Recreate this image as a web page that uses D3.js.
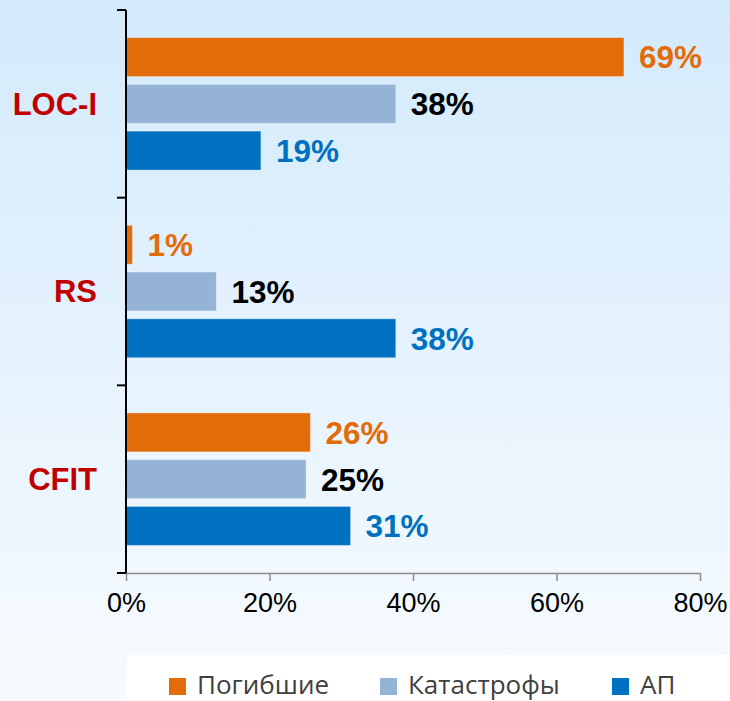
<!DOCTYPE html>
<html>
<head>
<meta charset="utf-8">
<script src="https://cdn.jsdelivr.net/npm/d3@7"></script>
<style>
  html, body { margin: 0; padding: 0; background: #fff; }
  svg { display: block; }
</style>
</head>
<body>
<div id="chart"></div>
<script>
// data
const categories = ["LOC-I", "RS", "CFIT"];
const seriesNames = ["Погибшие", "Катастрофы", "АП"];
const fatalities = [0.694, 0.009, 0.257];
const accidents = [0.376, 0.126, 0.251];
const incidents = [0.188, 0.376, 0.313];
const xTicks = [0, 0.2, 0.4, 0.6, 0.8];

const seriesValues = [fatalities, accidents, incidents];
const barColors = ["#e36c0a", "#95b3d7", "#0070c0"];
const labelColors = ["#e36c0a", "#000000", "#0070c0"];

const width = 730, height = 701;
const fmt = d3.format(".0%");

const svg = d3.select("#chart").append("svg")
    .attr("width", width)
    .attr("height", height);

// background gradient
const defs = svg.append("defs");
const grad = defs.append("linearGradient")
    .attr("id", "bg").attr("x1", 0).attr("y1", 0).attr("x2", 0).attr("y2", 1);
grad.append("stop").attr("offset", "0%").attr("stop-color", "#d3eafb");
grad.append("stop").attr("offset", "100%").attr("stop-color", "#f7fbff");
svg.append("rect").attr("width", width).attr("height", height).attr("fill", "url(#bg)");

const x = d3.scaleLinear().domain([0, 0.8]).range([126, 700]);
const y0 = d3.scaleBand().domain(categories).range([10, 573]).padding(0);
const y1 = d3.scaleBand().domain(d3.range(seriesNames.length))
    .range([0, y0.bandwidth()])
    .paddingInner(0.167)
    .paddingOuter(0.59);

// bars
const rows = categories.map((c, i) => ({
    cat: c,
    vals: seriesValues.map((s, k) => ({ k: k, v: s[i] }))
}));

const group = svg.append("g").selectAll("g")
    .data(rows)
    .join("g")
    .attr("transform", d => `translate(0,${y0(d.cat)})`);

group.selectAll("rect")
    .data(d => d.vals)
    .join("rect")
    .attr("x", x(0))
    .attr("y", d => y1(d.k))
    .attr("width", d => x(d.v) - x(0))
    .attr("height", y1.bandwidth())
    .attr("fill", d => barColors[d.k])
    .attr("stroke", "rgba(255,255,255,0.35)")
    .attr("stroke-width", 1);

group.selectAll("text")
    .data(d => d.vals)
    .join("text")
    .attr("x", d => x(d.v) + 15)
    .attr("y", d => y1(d.k) + y1.bandwidth() / 2)
    .attr("dy", "0.36em")
    .attr("fill", d => labelColors[d.k])
    .style("font", "bold 31.5px 'Liberation Sans', Arial, sans-serif")
    .text(d => fmt(d.v));

// x axis
const xAxis = svg.append("g")
    .attr("transform", `translate(0,${y0.range()[1]})`)
    .call(d3.axisBottom(x).tickValues(xTicks).tickFormat(fmt).tickSize(8).tickSizeOuter(0));
xAxis.select(".domain").attr("stroke", "#8c8c8c").attr("stroke-width", 1.5);
xAxis.selectAll(".tick line").attr("stroke", "#8c8c8c").attr("stroke-width", 1.5);
xAxis.selectAll(".tick text")
    .attr("y", 20)
    .attr("dy", "0.72em")
    .attr("fill", "#000")
    .style("font", "27px 'Liberation Sans', Arial, sans-serif");

// y axis: line with ticks at the band edges
const yAxis = svg.append("g");
const edges = categories.map(c => y0(c)).concat([y0.range()[1]]);
yAxis.append("line")
    .attr("x1", x(0)).attr("x2", x(0))
    .attr("y1", y0.range()[0]).attr("y2", y0.range()[1])
    .attr("stroke", "#000").attr("stroke-width", 2);
yAxis.selectAll("line.tk")
    .data(edges)
    .join("line")
    .attr("class", "tk")
    .attr("x1", x(0) - 9).attr("x2", x(0))
    .attr("y1", d => d).attr("y2", d => d)
    .attr("stroke", "#000").attr("stroke-width", 2);
yAxis.selectAll("text")
    .data(categories)
    .join("text")
    .attr("x", 97)
    .attr("y", d => y0(d) + y0.bandwidth() / 2)
    .attr("dy", "0.35em")
    .attr("text-anchor", "end")
    .attr("fill", "#c00000")
    .style("font", "bold 31px 'Liberation Sans', Arial, sans-serif")
    .text(d => d);

// legend
svg.append("rect")
    .attr("x", 127).attr("y", 655)
    .attr("width", width - 127).attr("height", height - 655)
    .attr("fill", "#ffffff");

const legendX = [169, 380, 612];
const legend = svg.append("g").selectAll("g")
    .data(seriesNames)
    .join("g")
    .attr("transform", (d, i) => `translate(${legendX[i]},678)`);
legend.append("rect")
    .attr("width", 17).attr("height", 17)
    .attr("fill", (d, i) => barColors[i]);
legend.append("text")
    .attr("x", 28)
    .attr("y", 16)
    .attr("fill", "#404040")
    .style("font", "26px 'Open Sans', 'Noto Sans', sans-serif")
    .text(d => d);
</script>
</body>
</html>
